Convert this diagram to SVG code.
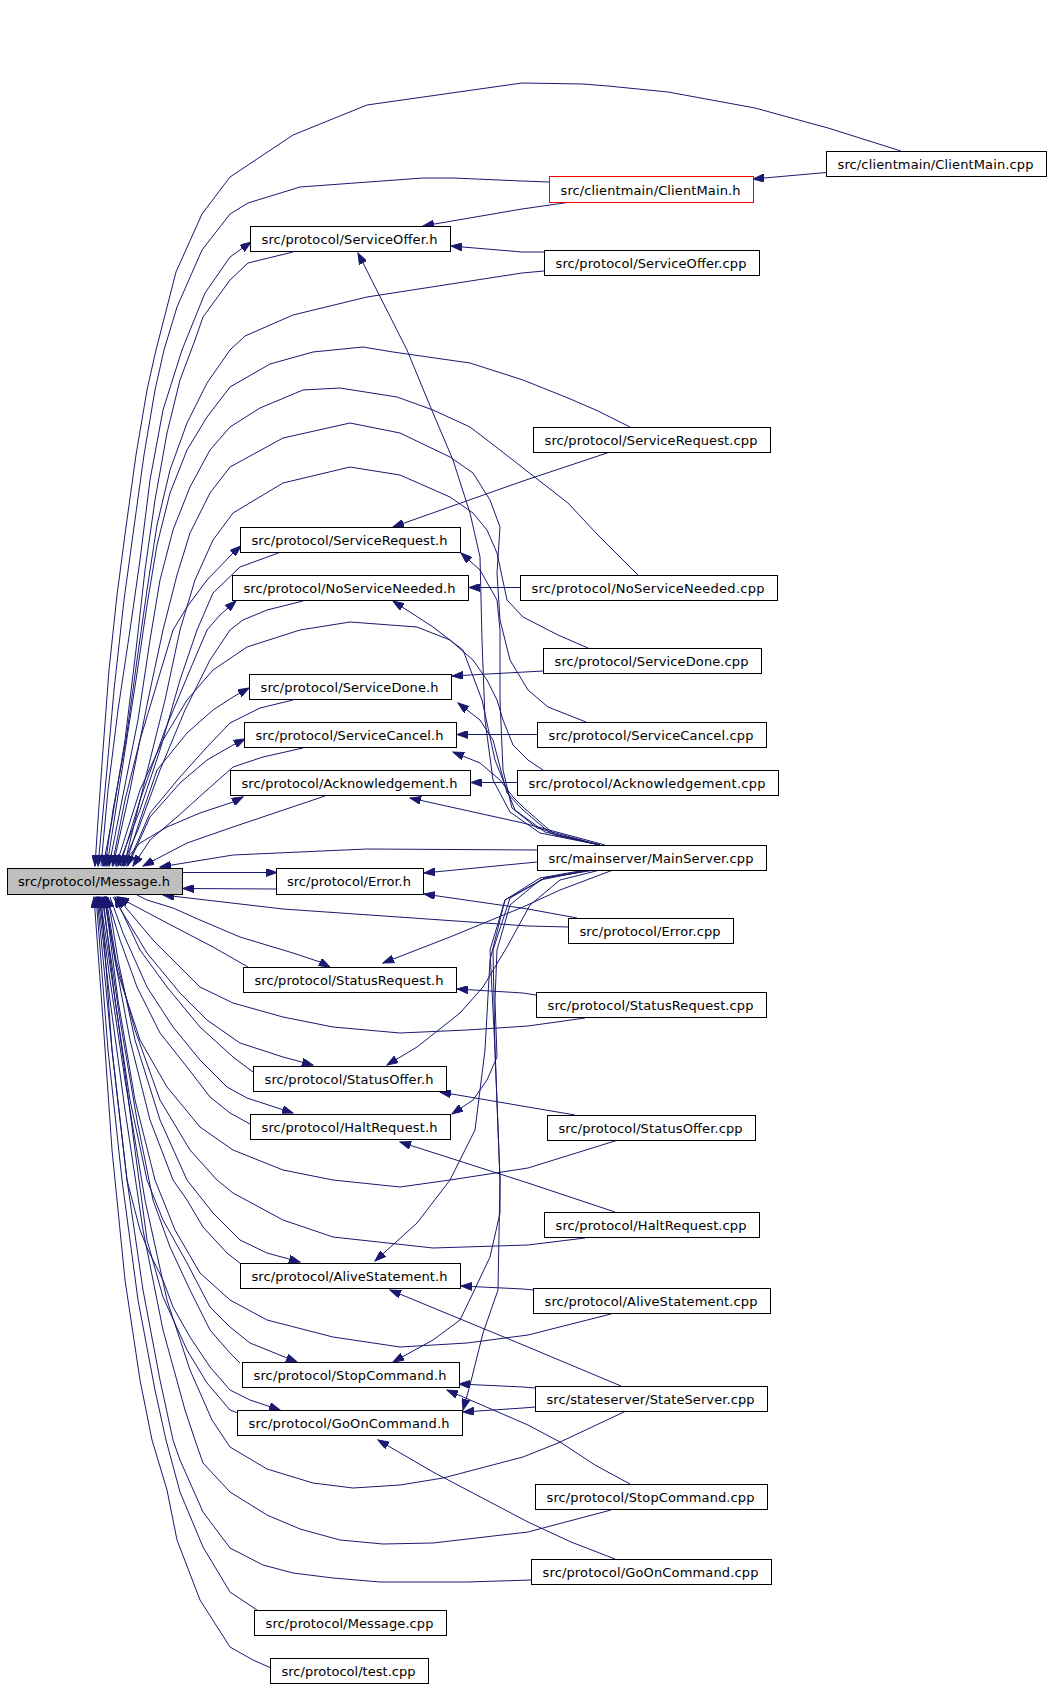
<svg xmlns="http://www.w3.org/2000/svg" width="1056" height="1687" viewBox="0 0 1056 1687">
<style>
.n rect{fill:#fff;stroke:#000;stroke-width:1}
.n text{font-family:"DejaVu Sans",sans-serif;font-size:13px;fill:#000;text-anchor:middle}
#edges path{fill:none;stroke:#191970;stroke-width:1;marker-end:url(#a)}
</style>
<defs>
<marker id="a" markerUnits="userSpaceOnUse" markerWidth="12" markerHeight="8" refX="11" refY="4" orient="auto">
<path d="M0,0 L11,4 L0,8 z" fill="#191970" stroke="#191970" stroke-width="1"/>
</marker>
</defs>
<rect width="1056" height="1687" fill="#fff"/>
<g id="edges">
<path d="M826,172.5 L753,179"/>
<path d="M901,151 L828,128 L755,108 L668,92 L608,86 L583,84 L522,83 L367,105 L293,135 L230,177 L202,214 L176,272 L156,350 L147,390 L136,455 L126,527 L117,595 L109,670 L103,750 L98,820 L95,866"/>
<path d="M571,202 L522,209 L423,226"/>
<path d="M549,182 L522,181 L453,178 L423,178 L300,187 L248,203 L230,214 L202,250 L177,307 L164,350 L155,390 L144,455 L134,527 L124,600 L114,690 L106,780 L98,866"/>
<path d="M544,252 L522,252 L451,246"/>
<path d="M544,271 L522,273 L367,297 L293,315 L245,336 L230,350 L207,383 L187,423 L170,470 L157,525 L147,590 L137,660 L126,740 L113,810 L105,866"/>
<path d="M101,866 L108,790 L118,710 L130,630 L140,560 L150,480 L163,410 L182,350 L205,293 L230,257 L251,242"/>
<path d="M293,252 L248,263 L230,280 L203,317 L195,340 L180,380 L167,433 L155,500 L145,570 L136,650 L125,740 L112,820 L103,866"/>
<path d="M600,845 L540,833 L510,812 L493,780 L485,720 L482,640 L480,557 L470,513 L453,460 L433,413 L407,350 L358,253"/>
<path d="M610,452 L523,481 L393,527"/>
<path d="M630,427 L598,411 L568,398 L523,380 L470,363 L393,352 L363,347 L313,352 L270,364 L230,387 L207,417 L187,450 L170,493 L157,545 L147,605 L136,680 L122,770 L107,866"/>
<path d="M112,866 L125,800 L140,740 L158,680 L173,630 L187,607 L207,580 L233,553 L241,546"/>
<path d="M281,552 L240,567 L213,593 L197,630 L180,680 L160,750 L140,810 L118,866"/>
<path d="M600,845 L537,828 L512,808 L503,770 L500,700 L500,630 L497,600 L480,570 L461,553"/>
<path d="M520,587.5 L469,587.5"/>
<path d="M638,575 L596,533 L568,503 L523,468 L500,450 L470,427 L433,410 L397,397 L340,388 L303,390 L260,408 L230,427 L210,450 L190,487 L173,530 L160,580 L150,640 L138,720 L122,800 L109,866"/>
<path d="M120,866 L140,800 L165,730 L190,670 L207,630 L220,615 L236,601"/>
<path d="M303,601 L267,610 L243,620 L230,630 L210,660 L185,710 L160,770 L138,830 L122,866"/>
<path d="M600,845 L545,832 L515,810 L495,760 L482,700 L463,650 L433,627 L393,601"/>
<path d="M543,671 L452,676"/>
<path d="M588,648 L558,635 L523,617 L507,600 L497,553 L487,530 L473,513 L450,497 L400,475 L350,467 L283,483 L233,513 L213,540 L195,580 L180,630 L165,700 L145,780 L124,866"/>
<path d="M125,866 L140,820 L157,770 L187,733 L213,710 L233,697 L249,688"/>
<path d="M293,700 L260,708 L230,723 L207,747 L180,777 L150,813 L127,866"/>
<path d="M600,845 L550,833 L523,810 L507,793 L500,767 L493,740 L480,720 L458,703"/>
<path d="M537,734.5 L457,734.5"/>
<path d="M586,722 L548,707 L528,690 L510,660 L500,620 L497,573 L500,527 L490,500 L473,473 L450,457 L400,433 L350,423 L283,438 L230,467 L210,493 L190,533 L177,575 L163,630 L148,700 L130,790 L113,866"/>
<path d="M128,866 L150,817 L180,783 L207,760 L233,745 L245,739"/>
<path d="M303,748 L263,757 L233,767 L207,790 L177,817 L150,840 L133,866"/>
<path d="M600,845 L555,835 L523,807 L513,797 L500,780 L480,763 L453,752"/>
<path d="M518,782.5 L471,782.5"/>
<path d="M543,770 L528,760 L513,745 L503,720 L497,700 L487,680 L473,660 L450,640 L417,627 L350,622 L300,630 L247,647 L213,670 L187,700 L163,740 L140,790 L116,866"/>
<path d="M120,866 L140,843 L167,827 L200,813 L233,802 L243,797"/>
<path d="M325,796 L233,827 L187,843 L143,866"/>
<path d="M605,845 L523,823 L410,798"/>
<path d="M537,850 L367,849 L233,855 L160,867"/>
<path d="M537,862 L424,873"/>
<path d="M183,872.5 L277,872.5"/>
<path d="M277,889 L183,888.5"/>
<path d="M577,918 L528,909 L424,894"/>
<path d="M569,927 L528,926 L283,909 L163,895"/>
<path d="M137,895 L147,900 L173,908 L200,920 L240,937 L293,953 L320,962 L330,967"/>
<path d="M248,967 L213,947 L167,923 L118,897"/>
<path d="M613,870 L560,890 L523,907 L450,937 L383,963"/>
<path d="M536,995 L523,993 L457,989"/>
<path d="M585,1018 L528,1026 L467,1030 L400,1033 L333,1027 L283,1017 L233,1003 L200,987 L153,940 L117,897"/>
<path d="M113,897 L127,920 L147,953 L180,993 L207,1020 L240,1043 L283,1057 L313,1065"/>
<path d="M253,1072 L233,1057 L200,1027 L167,987 L140,950 L115,897"/>
<path d="M600,870 L560,880 L530,905 L507,947 L483,987 L460,1013 L417,1047 L387,1065"/>
<path d="M575,1115 L528,1107 L440,1092"/>
<path d="M618,1140 L528,1168 L450,1180 L400,1187 L333,1180 L283,1170 L233,1150 L200,1127 L167,1087 L140,1040 L117,970 L104,897"/>
<path d="M110,897 L123,933 L147,987 L173,1027 L200,1060 L227,1087 L247,1098 L293,1113"/>
<path d="M250,1124 L230,1113 L210,1097 L187,1067 L160,1033 L137,987 L120,940 L107,897"/>
<path d="M590,870 L540,880 L510,905 L497,950 L495,1000 L497,1057 L487,1080 L473,1100 L452,1114"/>
<path d="M615,1212 L528,1183 L400,1142"/>
<path d="M585,1238 L528,1245 L433,1248 L333,1237 L283,1220 L233,1193 L217,1180 L190,1150 L160,1100 L135,1030 L116,960 L106,897"/>
<path d="M108,897 L118,960 L135,1040 L160,1120 L187,1180 L213,1213 L240,1240 L267,1253 L300,1262"/>
<path d="M241,1264 L227,1253 L203,1227 L187,1200 L173,1180 L150,1120 L130,1040 L115,960 L105,897"/>
<path d="M595,870 L545,878 L505,900 L490,960 L485,1050 L475,1130 L450,1180 L417,1223 L375,1261"/>
<path d="M533,1290 L523,1289 L461,1286"/>
<path d="M611,1314 L528,1335 L467,1343 L400,1347 L333,1337 L267,1320 L230,1300 L200,1273 L175,1230 L155,1180 L135,1100 L118,1000 L105,897"/>
<path d="M621,1386 L528,1347 L390,1290"/>
<path d="M103,897 L115,1000 L130,1100 L147,1180 L163,1220 L187,1263 L210,1307 L230,1327 L250,1343 L297,1362"/>
<path d="M240,1363 L230,1353 L210,1330 L190,1290 L170,1247 L153,1200 L137,1120 L120,1020 L102,897"/>
<path d="M590,870 L545,878 L510,898 L493,950 L495,1050 L500,1180 L500,1213 L490,1257 L473,1293 L460,1320 L433,1340 L393,1362"/>
<path d="M535,1388 L523,1387 L459,1384"/>
<path d="M630,1484 L595,1465 L560,1442 L528,1425 L447,1390"/>
<path d="M101,897 L112,1050 L127,1180 L140,1230 L148,1250 L163,1280 L173,1307 L190,1337 L210,1367 L230,1390 L250,1400 L280,1410"/>
<path d="M238,1413 L230,1410 L207,1383 L187,1350 L163,1297 L147,1240 L135,1150 L118,1020 L100,897"/>
<path d="M585,870 L540,878 L505,900 L490,950 L495,1050 L500,1180 L498,1290 L483,1333 L470,1385 L463,1410"/>
<path d="M535,1407 L523,1408 L463,1412"/>
<path d="M615,1559 L571,1542 L528,1522 L433,1472 L378,1440"/>
<path d="M626,1411 L558,1443 L523,1457 L443,1478 L400,1485 L353,1488 L313,1483 L267,1469 L230,1447 L212,1420 L190,1370 L167,1300 L145,1200 L125,1080 L110,980 L99,897"/>
<path d="M611,1510 L528,1532 L433,1543 L383,1544 L340,1540 L300,1529 L267,1515 L230,1492 L203,1463 L195,1440 L185,1410 L163,1330 L143,1230 L125,1110 L110,1000 L98,897"/>
<path d="M531,1580 L467,1582 L380,1582 L333,1578 L293,1573 L263,1565 L230,1548 L203,1512 L180,1460 L173,1440 L160,1380 L143,1290 L127,1180 L112,1050 L97,897"/>
<path d="M257,1610 L230,1592 L203,1547 L180,1492 L166,1440 L155,1390 L138,1300 L122,1180 L108,1050 L96,897"/>
<path d="M271,1668 L253,1660 L230,1647 L200,1600 L177,1540 L167,1490 L152,1440 L140,1380 L125,1280 L112,1150 L103,1020 L94,897"/>
</g>
<g id="n_message_h" class="n"><rect x="7.5" y="868.5" width="175" height="26" style="fill:#bfbfbf"/><text x="94" y="886" textLength="152" lengthAdjust="spacing">src/protocol/Message.h</text></g>
<g id="n_clientmain_cpp" class="n"><rect x="826.5" y="151.5" width="220" height="25"/><text x="935.5" y="169" textLength="196" lengthAdjust="spacing">src/clientmain/ClientMain.cpp</text></g>
<g id="n_clientmain_h" class="n"><rect x="549.5" y="176.5" width="204" height="26" style="stroke:#ff0000"/><text x="650.5" y="194.5" textLength="180" lengthAdjust="spacing">src/clientmain/ClientMain.h</text></g>
<g id="n_serviceoffer_h" class="n"><rect x="250.5" y="226.5" width="200" height="25"/><text x="349.5" y="244" textLength="176" lengthAdjust="spacing">src/protocol/ServiceOffer.h</text></g>
<g id="n_serviceoffer_cpp" class="n"><rect x="544.5" y="250.5" width="215" height="25"/><text x="651" y="268" textLength="191" lengthAdjust="spacing">src/protocol/ServiceOffer.cpp</text></g>
<g id="n_servicerequest_cpp" class="n"><rect x="533.5" y="427.5" width="237" height="25"/><text x="651" y="445" textLength="213" lengthAdjust="spacing">src/protocol/ServiceRequest.cpp</text></g>
<g id="n_servicerequest_h" class="n"><rect x="240.5" y="527.5" width="220" height="25"/><text x="349.5" y="545" textLength="196" lengthAdjust="spacing">src/protocol/ServiceRequest.h</text></g>
<g id="n_noserviceneeded_h" class="n"><rect x="232.5" y="575.5" width="236" height="25"/><text x="349.5" y="593" textLength="212" lengthAdjust="spacing">src/protocol/NoServiceNeeded.h</text></g>
<g id="n_noserviceneeded_cpp" class="n"><rect x="520.5" y="575.5" width="257" height="25"/><text x="648" y="593" textLength="233" lengthAdjust="spacing">src/protocol/NoServiceNeeded.cpp</text></g>
<g id="n_servicedone_cpp" class="n"><rect x="543.5" y="648.5" width="218" height="25"/><text x="651.5" y="666" textLength="194" lengthAdjust="spacing">src/protocol/ServiceDone.cpp</text></g>
<g id="n_servicedone_h" class="n"><rect x="249.5" y="674.5" width="202" height="25"/><text x="349.5" y="692" textLength="178" lengthAdjust="spacing">src/protocol/ServiceDone.h</text></g>
<g id="n_servicecancel_h" class="n"><rect x="244.5" y="722.5" width="212" height="25"/><text x="349.5" y="740" textLength="188" lengthAdjust="spacing">src/protocol/ServiceCancel.h</text></g>
<g id="n_servicecancel_cpp" class="n"><rect x="537.5" y="722.5" width="229" height="25"/><text x="651" y="740" textLength="205" lengthAdjust="spacing">src/protocol/ServiceCancel.cpp</text></g>
<g id="n_acknowledgement_h" class="n"><rect x="230.5" y="770.5" width="240" height="25"/><text x="349.5" y="788" textLength="216" lengthAdjust="spacing">src/protocol/Acknowledgement.h</text></g>
<g id="n_acknowledgement_cpp" class="n"><rect x="517.5" y="770.5" width="261" height="25"/><text x="647" y="788" textLength="237" lengthAdjust="spacing">src/protocol/Acknowledgement.cpp</text></g>
<g id="n_mainserver_cpp" class="n"><rect x="537.5" y="845.5" width="229" height="25"/><text x="651" y="863" textLength="205" lengthAdjust="spacing">src/mainserver/MainServer.cpp</text></g>
<g id="n_error_h" class="n"><rect x="276.5" y="868.5" width="147" height="26"/><text x="349" y="886" textLength="124" lengthAdjust="spacing">src/protocol/Error.h</text></g>
<g id="n_error_cpp" class="n"><rect x="568.5" y="918.5" width="165" height="25"/><text x="650" y="936" textLength="141" lengthAdjust="spacing">src/protocol/Error.cpp</text></g>
<g id="n_statusrequest_h" class="n"><rect x="243.5" y="967.5" width="213" height="25"/><text x="349" y="985" textLength="189" lengthAdjust="spacing">src/protocol/StatusRequest.h</text></g>
<g id="n_statusrequest_cpp" class="n"><rect x="536.5" y="992.5" width="230" height="25"/><text x="650.5" y="1010" textLength="206" lengthAdjust="spacing">src/protocol/StatusRequest.cpp</text></g>
<g id="n_statusoffer_h" class="n"><rect x="253.5" y="1066.5" width="193" height="25"/><text x="349" y="1084" textLength="169" lengthAdjust="spacing">src/protocol/StatusOffer.h</text></g>
<g id="n_statusoffer_cpp" class="n"><rect x="547.5" y="1115.5" width="208" height="25"/><text x="650.5" y="1133" textLength="184" lengthAdjust="spacing">src/protocol/StatusOffer.cpp</text></g>
<g id="n_haltrequest_h" class="n"><rect x="250.5" y="1114.5" width="200" height="25"/><text x="349.5" y="1132" textLength="176" lengthAdjust="spacing">src/protocol/HaltRequest.h</text></g>
<g id="n_haltrequest_cpp" class="n"><rect x="544.5" y="1212.5" width="215" height="25"/><text x="651" y="1230" textLength="191" lengthAdjust="spacing">src/protocol/HaltRequest.cpp</text></g>
<g id="n_alivestatement_h" class="n"><rect x="240.5" y="1263.5" width="220" height="25"/><text x="349.5" y="1281" textLength="196" lengthAdjust="spacing">src/protocol/AliveStatement.h</text></g>
<g id="n_alivestatement_cpp" class="n"><rect x="533.5" y="1288.5" width="237" height="25"/><text x="651" y="1306" textLength="213" lengthAdjust="spacing">src/protocol/AliveStatement.cpp</text></g>
<g id="n_stopcommand_h" class="n"><rect x="242.5" y="1362.5" width="217" height="25"/><text x="350" y="1380" textLength="193" lengthAdjust="spacing">src/protocol/StopCommand.h</text></g>
<g id="n_stateserver_cpp" class="n"><rect x="535.5" y="1386.5" width="232" height="25"/><text x="650.5" y="1404" textLength="208" lengthAdjust="spacing">src/stateserver/StateServer.cpp</text></g>
<g id="n_goncommand_h" class="n"><rect x="237.5" y="1410.5" width="225" height="25"/><text x="349" y="1428" textLength="201" lengthAdjust="spacing">src/protocol/GoOnCommand.h</text></g>
<g id="n_stopcommand_cpp" class="n"><rect x="535.5" y="1484.5" width="232" height="25"/><text x="650.5" y="1502" textLength="208" lengthAdjust="spacing">src/protocol/StopCommand.cpp</text></g>
<g id="n_goncommand_cpp" class="n"><rect x="531.5" y="1559.5" width="240" height="25"/><text x="650.5" y="1577" textLength="216" lengthAdjust="spacing">src/protocol/GoOnCommand.cpp</text></g>
<g id="n_message_cpp" class="n"><rect x="254.5" y="1610.5" width="192" height="25"/><text x="349.5" y="1628" textLength="168" lengthAdjust="spacing">src/protocol/Message.cpp</text></g>
<g id="n_test_cpp" class="n"><rect x="270.5" y="1658.5" width="158" height="25"/><text x="348.5" y="1676" textLength="134" lengthAdjust="spacing">src/protocol/test.cpp</text></g>
</svg>
